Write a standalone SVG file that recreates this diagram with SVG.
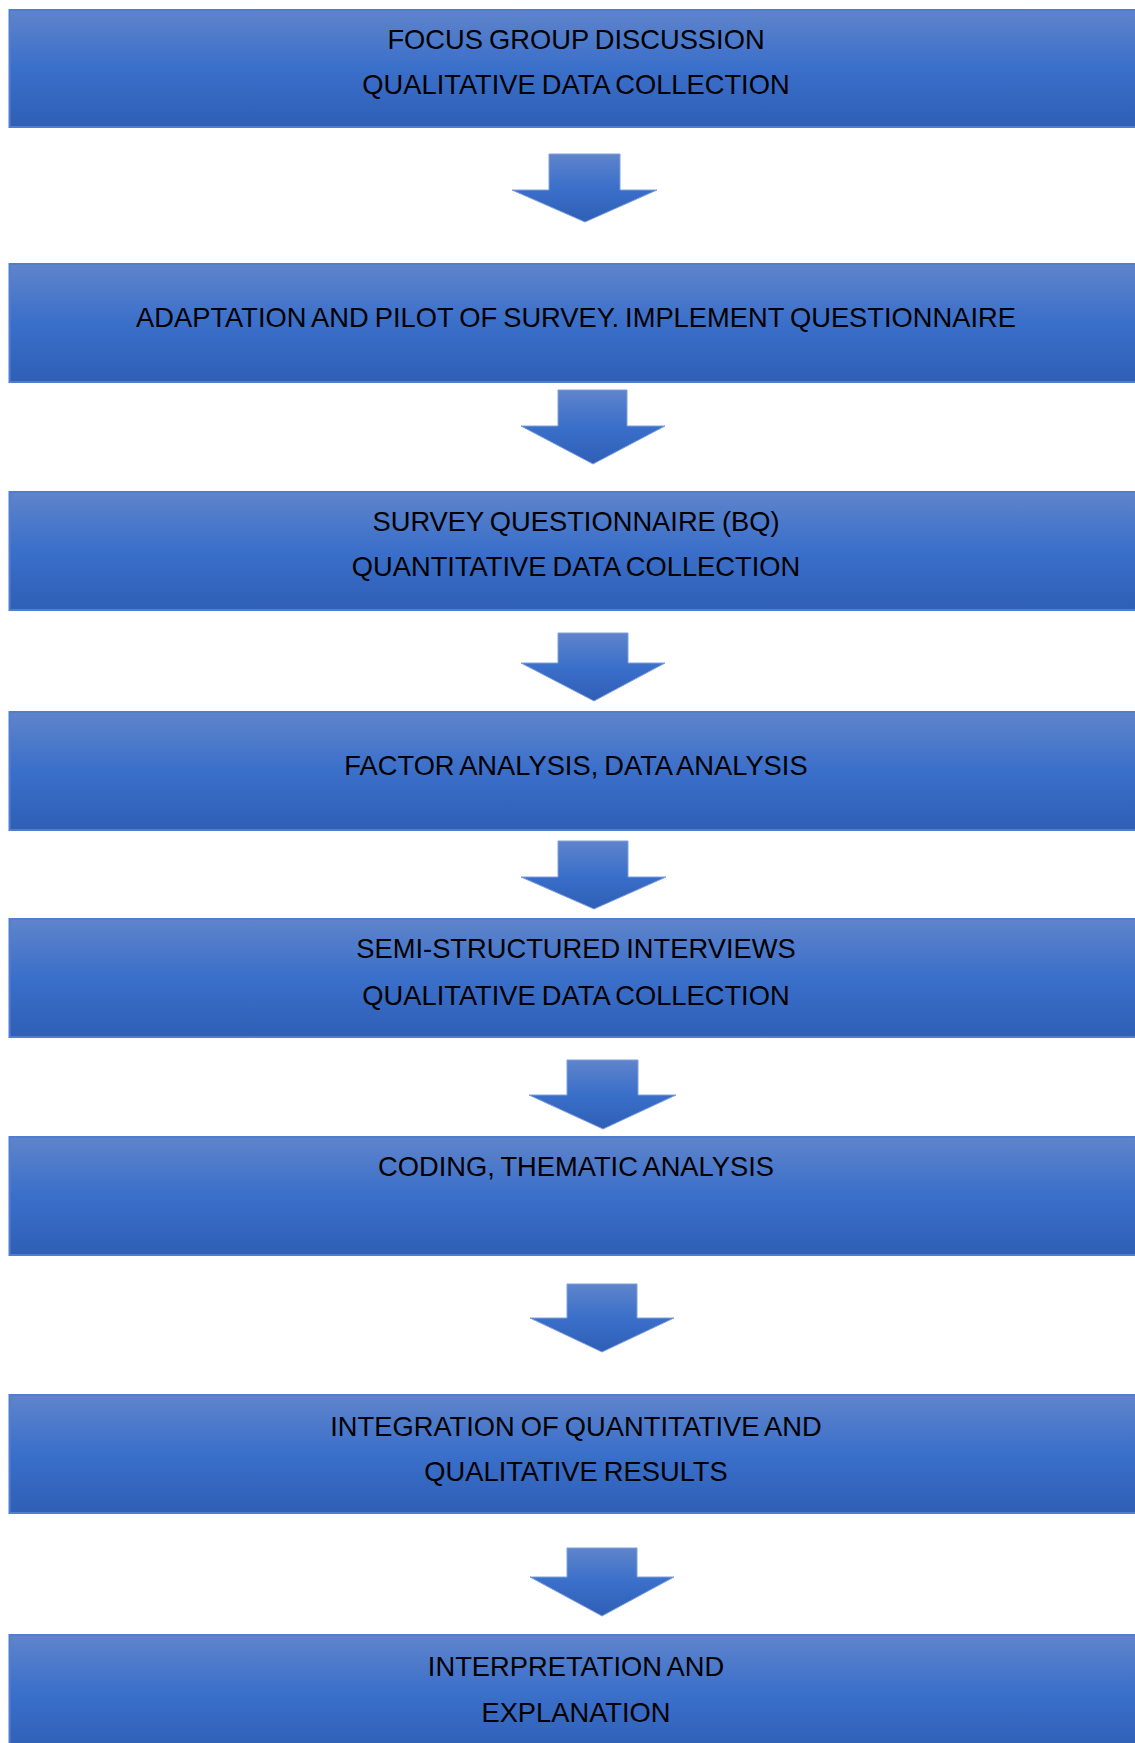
<svg xmlns="http://www.w3.org/2000/svg" width="1135" height="1743" viewBox="0 0 1135 1743">
<defs>
<linearGradient id="g" x1="0" y1="0" x2="0" y2="1">
<stop offset="0" stop-color="#5f84cb"/>
<stop offset="0.5" stop-color="#3a6fca"/>
<stop offset="1" stop-color="#2f5fb6"/>
</linearGradient>
<style>
.box{fill:url(#g);stroke:#4f7ed0;stroke-width:2}
.arr{fill:url(#g);stroke:#7fa0dc;stroke-width:1}
text{font-family:"Liberation Sans",Arial,sans-serif;font-size:27.3px;word-spacing:-1.5px;fill:#000;text-anchor:middle}
</style>
</defs>
<rect width="1135" height="1743" fill="#fff"/>
<g id="n1"><rect class="box" x="9.5" y="10" width="1130" height="117"/><text x="576" y="49">FOCUS GROUP DISCUSSION</text><text x="576" y="94">QUALITATIVE DATA COLLECTION</text></g>
<g id="n2"><rect class="box" x="9.5" y="264" width="1130" height="118"/><text x="576" y="327">ADAPTATION AND PILOT OF SURVEY. IMPLEMENT QUESTIONNAIRE</text></g>
<g id="n3"><rect class="box" x="9.5" y="492" width="1130" height="118"/><text x="576" y="531">SURVEY QUESTIONNAIRE (BQ)</text><text x="576" y="576">QUANTITATIVE DATA COLLECTION</text></g>
<g id="n4"><rect class="box" x="9.5" y="712" width="1130" height="118"/><text x="576" y="775">FACTOR ANALYSIS, DATA ANALYSIS</text></g>
<g id="n5"><rect class="box" x="9.5" y="919" width="1130" height="118"/><text x="576" y="958">SEMI-STRUCTURED INTERVIEWS</text><text x="576" y="1005">QUALITATIVE DATA COLLECTION</text></g>
<g id="n6"><rect class="box" x="9.5" y="1137" width="1130" height="118"/><text x="576" y="1176">CODING, THEMATIC ANALYSIS</text></g>
<g id="n7"><rect class="box" x="9.5" y="1395" width="1130" height="118"/><text x="576" y="1436">INTEGRATION OF QUANTITATIVE AND</text><text x="576" y="1481">QUALITATIVE RESULTS</text></g>
<g id="n8"><rect class="box" x="9.5" y="1635" width="1130" height="118"/><text x="576" y="1676">INTERPRETATION AND</text><text x="576" y="1722">EXPLANATION</text></g>
<g id="connectors">
<path class="arr" d="M549,154 H620 V190 H657 L585,222 L512,190 H549 Z"/>
<path class="arr" d="M558,390 H627 V426 H665 L593,464 L521,426 H558 Z"/>
<path class="arr" d="M558,633 H628 V663 H665 L594,701 L521,663 H558 Z"/>
<path class="arr" d="M558,841 H628 V877 H666 L594,909 L521,877 H558 Z"/>
<path class="arr" d="M567,1060 H638 V1095 H676 L603,1129 L529,1095 H567 Z"/>
<path class="arr" d="M567,1284 H637 V1318 H674 L602,1352 L530,1318 H567 Z"/>
<path class="arr" d="M567,1548 H637 V1577 H674 L602,1616 L530,1577 H567 Z"/>
</g>
</svg>
